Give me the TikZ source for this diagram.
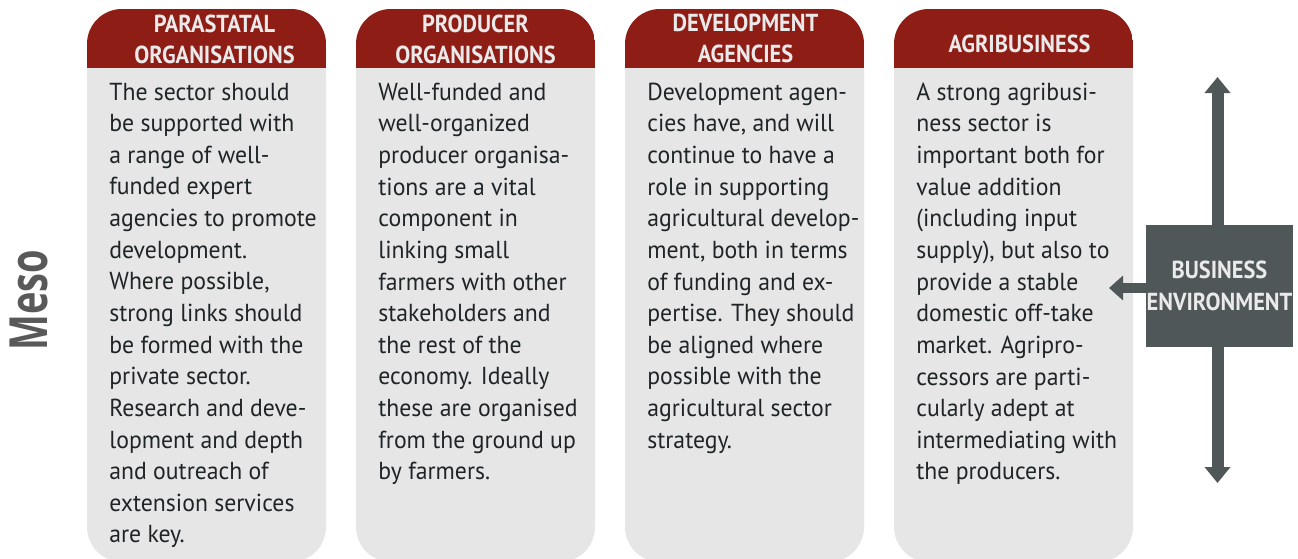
\documentclass[tikz,border=0pt]{standalone}
\usepackage{fontspec}
\setmainfont[FakeStretch=0.965]{PT Sans}
\newfontfamily\headfont[FakeStretch=0.91]{PT Sans}
\newfontfamily\mesofont[FakeStretch=0.72]{Open Sans}
\usepackage{xcolor}
\usetikzlibrary{arrows.meta}
\definecolor{headred}{HTML}{8E1D16}
\definecolor{bodygray}{HTML}{E6E6E6}
\definecolor{textdark}{HTML}{1F2427}
\definecolor{envgray}{HTML}{4F5759}
\definecolor{headtext}{HTML}{EAEAEA}
\definecolor{mesogray}{HTML}{595959}
\tikzset{>=latex}
\tikzset{
  header/.style={text=headtext, align=center, inner sep=0pt,
    font=\headfont\bfseries\fontsize{14}{18}\selectfont},
  bodytext/.style={anchor=north west, inner sep=0pt, align=left, text=textdark,
    font=\fontsize{14}{18}\selectfont},
  envbox/.style={fill=envgray, text=headtext, minimum width=2.94cm,
    minimum height=2.44cm, inner sep=0pt, align=center,
    font=\headfont\bfseries\fontsize{14}{18}\selectfont},
  envarrow/.style={draw=envgray, line width=0.24cm,
    -{Triangle[width=0.5cm,length=0.32cm]}},
  sidearrow/.style={draw=envgray, line width=0.2cm,
    -{Triangle[width=0.48cm,length=0.28cm]}}
}

\begin{document}
\begin{tikzpicture}
  \useasboundingbox (0,0) rectangle (25.96,11.16);

  \fill[bodygray, rounded corners=0.7cm] (1.74,-0.08) rectangle (6.52,10.98);
  \begin{scope}
    \clip[rounded corners=0.7cm] (1.74,-0.08) rectangle (6.52,10.98);
    \fill[headred] (1.74,9.80) rectangle (6.52,10.98);
  \end{scope}
  \fill[bodygray, rounded corners=0.7cm] (7.12,-0.08) rectangle (11.90,10.98);
  \begin{scope}
    \clip[rounded corners=0.7cm] (7.12,-0.08) rectangle (11.90,10.98);
    \fill[headred] (7.12,9.80) rectangle (11.90,10.98);
  \end{scope}
  \fill[bodygray, rounded corners=0.7cm] (12.50,-0.08) rectangle (17.28,10.98);
  \begin{scope}
    \clip[rounded corners=0.7cm] (12.50,-0.08) rectangle (17.28,10.98);
    \fill[headred] (12.50,9.80) rectangle (17.28,10.98);
  \end{scope}
  \fill[bodygray, rounded corners=0.7cm] (17.88,-0.08) rectangle (22.66,10.98);
  \begin{scope}
    \clip[rounded corners=0.7cm] (17.88,-0.08) rectangle (22.66,10.98);
    \fill[headred] (17.88,9.80) rectangle (22.66,10.98);
  \end{scope}

  \node[header] (parahead) at (4.29,10.37) {PARASTATAL\\ORGANISATIONS};
  \node[header] (prodhead) at (9.51,10.37) {PRODUCER\\ORGANISATIONS};
  \node[header] (devhead) at (14.91,10.39) {DEVELOPMENT\\AGENCIES};
  \node[header] (agrihead) at (20.39,10.28) {AGRIBUSINESS};

  \node[bodytext] (paratext) at (2.18,9.51) {The sector should\\be supported with\\a range of well-\\funded expert\\agencies to promote\\development.\\Where possible,\\strong links should\\be formed with the\\private sector.\\Research and deve-\\lopment and depth\\and outreach of\\extension services\\are key.};
  \node[bodytext] (prodtext) at (7.56,9.51) {Well-funded and\\well-organized\\producer organisa-\\tions are a vital\\component in\\linking small\\farmers with other\\stakeholders and\\the rest of the\\economy. Ideally\\these are organised\\from the ground up\\by farmers.};
  \node[bodytext] (devtext) at (12.94,9.51) {Development agen-\\cies have, and will\\continue to have a\\role in supporting\\agricultural develop-\\ment, both in terms\\of funding and ex-\\pertise. They should\\be aligned where\\possible with the\\agricultural sector\\strategy.};
  \node[bodytext] (agritext) at (18.32,9.51) {A strong agribusi-\\ness sector is\\important both for\\value addition\\(including input\\supply), but also to\\provide a stable\\domestic off-take\\market. Agripro-\\cessors are parti-\\cularly adept at\\intermediating with\\the producers.};

  \node[envbox] (env) at (24.39,5.44) {BUSINESS\\ENVIRONMENT};
  \coordinate (uptip) at (24.35,9.62);
  \coordinate (downtip) at (24.35,1.50);
  \coordinate (lefttip) at (22.18,5.40);
  \draw[envarrow] (env.north -| uptip) -- (uptip);
  \draw[envarrow] (env.south -| downtip) -- (downtip);
  \draw[sidearrow] (env.west |- lefttip) -- (lefttip);

  \node[rotate=90, text=mesogray, font=\mesofont\bfseries\fontsize{30}{30}\selectfont] (meso) at (0.57,5.16) {Meso};
\end{tikzpicture}
\end{document}
